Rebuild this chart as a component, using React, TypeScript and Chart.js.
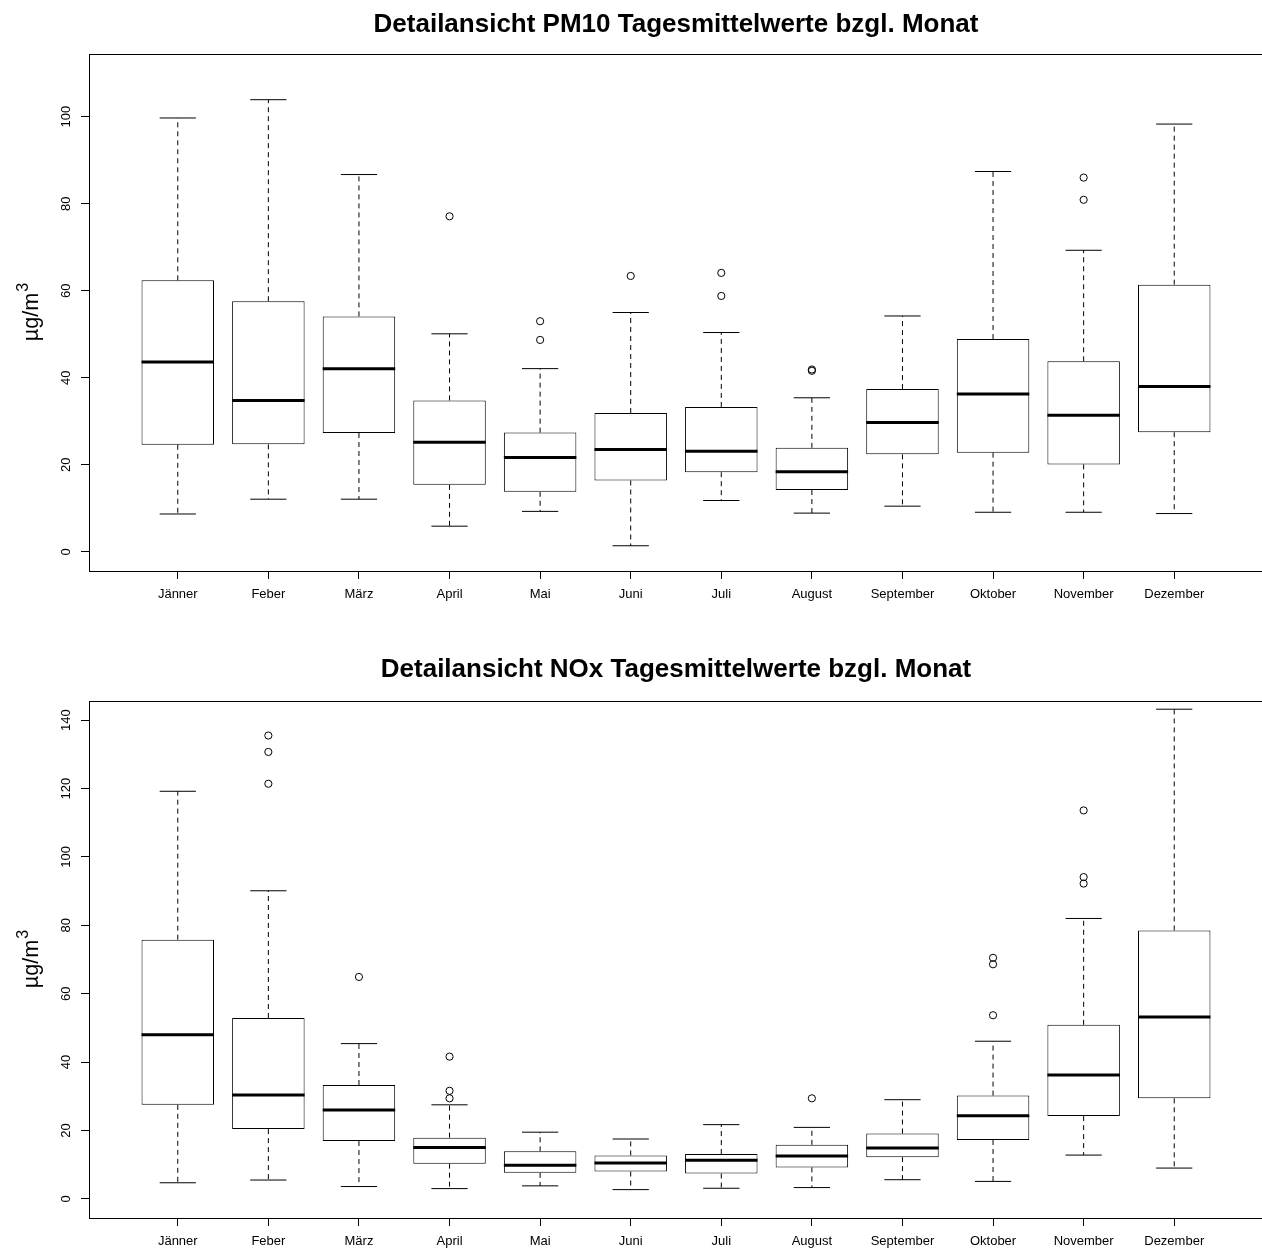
import React, { useEffect, useRef } from 'react';
import { Chart, registerables } from 'chart.js';

Chart.register(...registerables);

const FONT = '"Liberation Sans", Arial, Helvetica, sans-serif';

const months = ['Jänner', 'Feber', 'März', 'April', 'Mai', 'Juni', 'Juli', 'August', 'September', 'Oktober', 'November', 'Dezember'];

// PM10 daily means per month (µg/m³)
const pm10Lower = [8.7, 12.1, 12.1, 5.9, 9.3, 1.4, 11.8, 8.9, 10.5, 9.1, 9.1, 8.8];
const pm10Q1 = [24.6, 24.7, 27.3, 15.4, 13.8, 16.4, 18.3, 14.2, 22.4, 22.8, 20.1, 27.5];
const pm10Median = [43.6, 34.8, 42.1, 25.2, 21.7, 23.5, 23.1, 18.4, 29.7, 36.3, 31.4, 38.0];
const pm10Q3 = [62.4, 57.6, 54.1, 34.8, 27.4, 31.9, 33.3, 23.9, 37.4, 48.9, 43.8, 61.4];
const pm10Upper = [99.7, 103.9, 86.7, 50.1, 42.1, 55.0, 50.4, 35.4, 54.2, 87.4, 69.3, 98.3];
const pm10Outliers = [[], [], [], [77.1], [53.0, 48.7], [63.4], [64.1, 58.8], [41.9, 41.6], [], [], [86.0, 80.9], []];
const pm10Ticks = [0, 20, 40, 60, 80, 100];

// NOx daily means per month (µg/m³)
const noxLower = [4.7, 5.5, 3.6, 3.0, 3.8, 2.7, 3.1, 3.3, 5.6, 5.1, 12.8, 9.0];
const noxQ1 = [27.5, 20.4, 16.9, 10.3, 7.6, 8.0, 7.4, 9.2, 12.2, 17.2, 24.2, 29.4];
const noxMedian = [48.0, 30.4, 26.0, 15.0, 9.8, 10.5, 11.3, 12.5, 14.9, 24.3, 36.2, 53.2];
const noxQ3 = [75.8, 52.9, 33.3, 17.9, 13.9, 12.7, 13.1, 15.8, 19.1, 30.2, 50.9, 78.5];
const noxUpper = [119.2, 90.1, 45.4, 27.5, 19.5, 17.5, 21.7, 20.9, 29.0, 46.1, 82.0, 143.2];
const noxOutliers = [[], [135.5, 130.7, 121.4], [64.9], [41.6, 31.6, 29.4], [], [], [], [29.4], [], [70.5, 68.6, 53.7], [113.6, 94.1, 92.2], []];
const noxTicks = [0, 20, 40, 60, 80, 100, 120, 140];

type Panel = {
  title: string;
  lower: number[];
  q1: number[];
  median: number[];
  q3: number[];
  upper: number[];
  outliers: number[][];
  ticks: number[];
  yMin: number;
  yMax: number;
  frameTop: number;
  frameBottom: number;
  titleY: number;
};

const CANVAS_W = 1270;

function makeBoxPlugin(p: Panel) {
  return {
    id: 'rBoxplot',
    afterDatasetsDraw(chart: any) {
      const { ctx, chartArea } = chart;
      const y = chart.scales.y;
      const meta = chart.getDatasetMeta(0);
      ctx.save();
      ctx.strokeStyle = '#000';
      meta.data.forEach((bar: any, i: number) => {
        const x = bar.x;
        const w = bar.width;
        const pUp = y.getPixelForValue(p.upper[i]);
        const pQ3 = y.getPixelForValue(p.q3[i]);
        const pQ1 = y.getPixelForValue(p.q1[i]);
        const pLo = y.getPixelForValue(p.lower[i]);
        const pMed = y.getPixelForValue(p.median[i]);
        // dashed whiskers
        ctx.lineWidth = 1;
        ctx.setLineDash([5, 4]);
        ctx.beginPath();
        ctx.moveTo(x, pQ3);
        ctx.lineTo(x, pUp);
        ctx.moveTo(x, pQ1);
        ctx.lineTo(x, pLo);
        ctx.stroke();
        // staples
        ctx.setLineDash([]);
        ctx.beginPath();
        ctx.moveTo(x - w / 4, pUp);
        ctx.lineTo(x + w / 4, pUp);
        ctx.moveTo(x - w / 4, pLo);
        ctx.lineTo(x + w / 4, pLo);
        ctx.stroke();
        // median
        ctx.lineWidth = 3;
        ctx.beginPath();
        ctx.moveTo(x - w / 2, pMed);
        ctx.lineTo(x + w / 2, pMed);
        ctx.stroke();
      });
      // plot frame
      ctx.lineWidth = 1;
      ctx.strokeRect(
        Math.round(chartArea.left) + 0.5,
        Math.round(chartArea.top) + 0.5,
        Math.round(chartArea.right - chartArea.left),
        Math.round(chartArea.bottom - chartArea.top)
      );
      ctx.restore();
    },
    afterDraw(chart: any) {
      const { ctx, chartArea } = chart;
      const y = chart.scales.y;
      ctx.save();
      ctx.fillStyle = '#000';
      // main title
      ctx.font = `bold 26px ${FONT}`;
      ctx.textAlign = 'center';
      ctx.textBaseline = 'middle';
      ctx.fillText(p.title, (chartArea.left + chartArea.right) / 2, p.titleY);
      // rotated y tick labels
      ctx.font = `13px ${FONT}`;
      y.ticks.forEach((t: any) => {
        const py = y.getPixelForValue(t.value);
        ctx.save();
        ctx.translate(66, py);
        ctx.rotate(-Math.PI / 2);
        ctx.textAlign = 'center';
        ctx.textBaseline = 'middle';
        ctx.fillText(String(t.value), 0, 0);
        ctx.restore();
      });
      // y axis title with superscript
      const midY = (chartArea.top + chartArea.bottom) / 2;
      ctx.save();
      ctx.translate(38, midY);
      ctx.rotate(-Math.PI / 2);
      ctx.textBaseline = 'alphabetic';
      ctx.textAlign = 'left';
      ctx.font = `21.6px ${FONT}`;
      const base = 'µg/m';
      const wBase = ctx.measureText(base).width;
      ctx.font = `16px ${FONT}`;
      const wSup = ctx.measureText('3').width;
      const start = -(wBase + wSup) / 2;
      ctx.font = `21.6px ${FONT}`;
      ctx.fillText(base, start, 0);
      ctx.font = `16px ${FONT}`;
      ctx.fillText('3', start + wBase + 1, -10);
      ctx.restore();
      ctx.restore();
    },
  };
}

function buildConfig(p: Panel, height: number): any {
  const boxData = months.map((_, i) => ({ x: i + 1, y: [p.q1[i], p.q3[i]] }));
  const outlierData = p.outliers.flatMap((vals, i) => vals.map((v) => ({ x: i + 1, y: v })));
  return {
    type: 'bar',
    data: {
      datasets: [
        {
          type: 'bar',
          data: boxData,
          backgroundColor: '#ffffff',
          borderColor: '#000000',
          borderWidth: 1,
          borderSkipped: false,
          categoryPercentage: 1,
          barPercentage: 0.8,
          order: 2,
        },
        {
          type: 'scatter',
          data: outlierData,
          pointStyle: 'circle',
          pointRadius: 3.6,
          pointBorderWidth: 1,
          pointBackgroundColor: 'rgba(0,0,0,0)',
          pointBorderColor: '#000000',
          order: 1,
        },
      ],
    },
    options: {
      responsive: false,
      animation: false,
      devicePixelRatio: 1,
      layout: { padding: { top: p.frameTop, left: 0, right: 7, bottom: 0 } },
      plugins: {
        legend: { display: false },
        tooltip: { enabled: false },
        title: { display: false },
      },
      scales: {
        x: {
          type: 'linear',
          min: 0.02,
          max: 12.98,
          offset: false,
          afterBuildTicks: (s: any) => {
            s.ticks = months.map((_, i) => ({ value: i + 1 }));
          },
          afterFit: (s: any) => {
            s.height = height - p.frameBottom;
          },
          ticks: {
            autoSkip: false,
            maxRotation: 0,
            minRotation: 0,
            padding: 8,
            color: '#000',
            font: { family: FONT, size: 13 },
            callback: (_v: any, i: number) => months[i],
          },
          grid: {
            display: true,
            offset: false,
            drawOnChartArea: false,
            drawTicks: true,
            tickLength: 8,
            color: '#000',
            lineWidth: 1,
          },
          border: { display: false },
        },
        y: {
          type: 'linear',
          min: p.yMin,
          max: p.yMax,
          afterBuildTicks: (s: any) => {
            s.ticks = p.ticks.map((v) => ({ value: v }));
          },
          afterFit: (s: any) => {
            s.width = 89;
          },
          ticks: { display: false },
          grid: { display: true, drawOnChartArea: false, drawTicks: true, tickLength: 8, color: '#000', lineWidth: 1 },
          border: { display: false },
        },
      },
    },
    plugins: [makeBoxPlugin(p)],
  };
}

const pm10Panel: Panel = {
  title: 'Detailansicht PM10 Tagesmittelwerte bzgl. Monat',
  lower: pm10Lower,
  q1: pm10Q1,
  median: pm10Median,
  q3: pm10Q3,
  upper: pm10Upper,
  outliers: pm10Outliers,
  ticks: pm10Ticks,
  yMin: -4.4,
  yMax: 114.4,
  frameTop: 54,
  frameBottom: 571,
  titleY: 25,
};

const noxPanel: Panel = {
  title: 'Detailansicht NOx Tagesmittelwerte bzgl. Monat',
  lower: noxLower,
  q1: noxQ1,
  median: noxMedian,
  q3: noxQ3,
  upper: noxUpper,
  outliers: noxOutliers,
  ticks: noxTicks,
  yMin: -5.6,
  yMax: 145.6,
  frameTop: 61,
  frameBottom: 578,
  titleY: 30,
};

function BoxPanel({ panel, top, height }: { panel: Panel; top: number; height: number }) {
  const ref = useRef<HTMLCanvasElement>(null);
  useEffect(() => {
    const chart = new Chart(ref.current as HTMLCanvasElement, buildConfig(panel, height));
    return () => chart.destroy();
  }, [panel, height]);
  return (
    <canvas
      ref={ref}
      width={CANVAS_W}
      height={height}
      style={{ position: 'absolute', left: 0, top, width: CANVAS_W, height, display: 'block' }}
    />
  );
}

export default function App() {
  return (
    <div
      style={{
        position: 'absolute',
        left: 0,
        top: 0,
        width: 1262,
        height: 1249,
        overflow: 'hidden',
        background: '#ffffff',
      }}
    >
      <BoxPanel panel={pm10Panel} top={0} height={640} />
      <BoxPanel panel={noxPanel} top={640} height={609} />
    </div>
  );
}
